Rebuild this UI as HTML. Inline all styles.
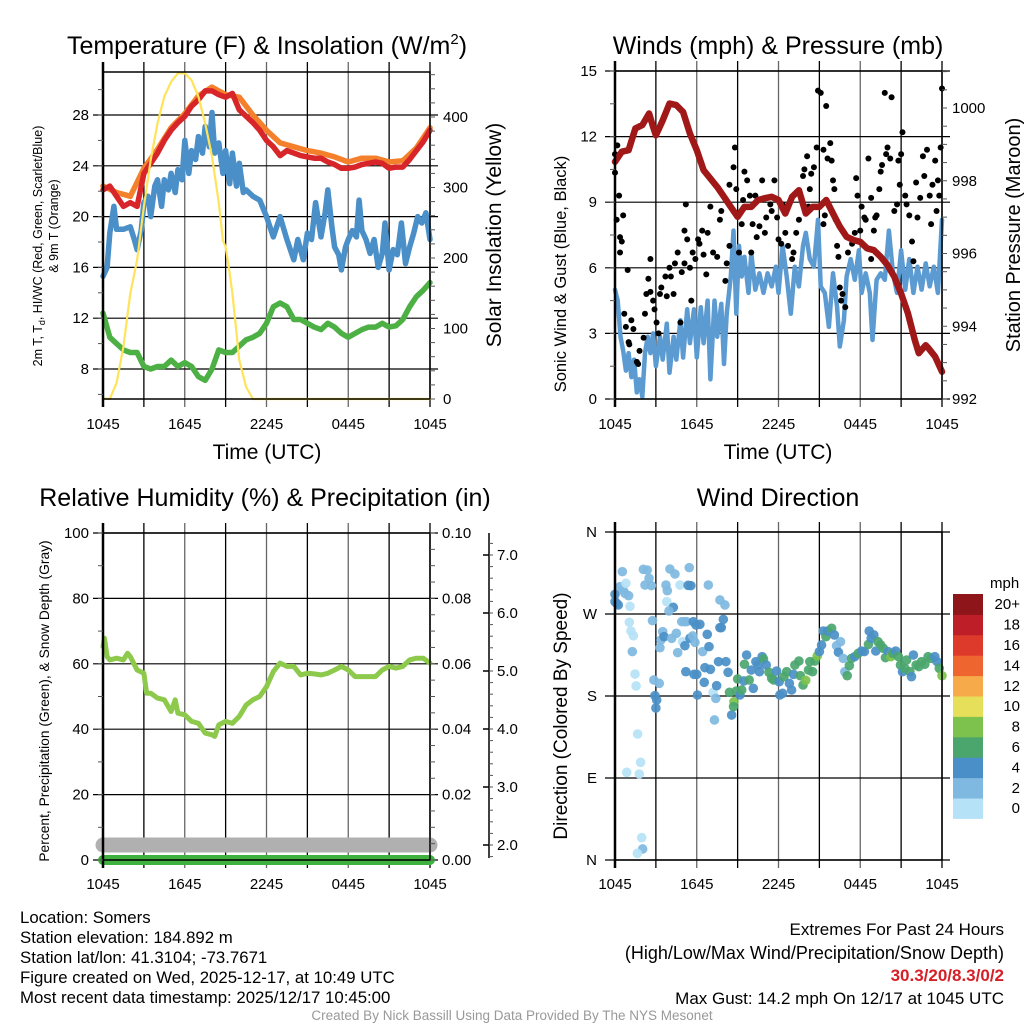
<!DOCTYPE html>
<html><head><meta charset="utf-8"><style>
html,body{margin:0;padding:0;background:#fff;}
svg{display:block;font-family:"Liberation Sans",sans-serif;}
</style></head><body>
<svg id="chart" width="1024" height="1024" viewBox="0 0 1024 1024" xmlns="http://www.w3.org/2000/svg">
<rect width="1024" height="1024" fill="#fff"/>
<g id="grids"></g>
<g id="series"></g>
<g id="frames"></g>
<g id="labels" font-size="15" fill="#000"></g>
<text x="267" y="54" font-size="25" text-anchor="middle">Temperature (F) &amp; Insolation (W/m<tspan font-size="15" dy="-10">2</tspan><tspan dy="10">)</tspan></text>
<text x="778" y="54" font-size="25" text-anchor="middle">Winds (mph) &amp; Pressure (mb)</text>
<text x="265" y="506" font-size="25" text-anchor="middle">Relative Humidity (%) &amp; Precipitation (in)</text>
<text x="778" y="506" font-size="25" text-anchor="middle">Wind Direction</text>
<text x="267" y="459" font-size="21" text-anchor="middle">Time (UTC)</text>
<text x="778" y="459" font-size="21" text-anchor="middle">Time (UTC)</text>
<text transform="translate(42,246) rotate(-90)" font-size="12.5" text-anchor="middle">2m T, T<tspan font-size="9" dy="3">d</tspan><tspan dy="-3">, HI/WC (Red, Green, Scarlet/Blue)</tspan></text>
<text transform="translate(58,226) rotate(-90)" font-size="12.5" text-anchor="middle">&amp; 9m T (Orange)</text>
<text transform="translate(501,235) rotate(-90)" font-size="21" text-anchor="middle">Solar Insolation (Yellow)</text>
<text transform="translate(566,274) rotate(-90)" font-size="16.5" text-anchor="middle">Sonic Wind &amp; Gust (Blue, Black)</text>
<text transform="translate(1020,235) rotate(-90)" font-size="20" text-anchor="middle">Station Pressure (Maroon)</text>
<text transform="translate(49,701) rotate(-90)" font-size="13.8" text-anchor="middle">Percent, Precipitation (Green), &amp; Snow Depth (Gray)</text>
<text transform="translate(567,716) rotate(-90)" font-size="19" text-anchor="middle">Direction (Colored By Speed)</text>
<g font-size="16.8">
<text x="20" y="923">Location: Somers</text>
<text x="20" y="943">Station elevation: 184.892 m</text>
<text x="20" y="963">Station lat/lon: 41.3104; -73.7671</text>
<text x="20" y="983">Figure created on Wed, 2025-12-17, at 10:49 UTC</text>
<text x="20" y="1003">Most recent data timestamp: 2025/12/17 10:45:00</text>
</g>
<g font-size="17" text-anchor="end">
<text x="1004" y="935">Extremes For Past 24 Hours</text>
<text x="1004" y="959" font-size="18">(High/Low/Max Wind/Precipitation/Snow Depth)</text>
<text x="1004" y="981" fill="#d62027" font-weight="bold">30.3/20/8.3/0/2</text>
<text x="1004" y="1004">Max Gust: 14.2 mph On 12/17 at 1045 UTC</text>
</g>
<text x="512" y="1020" font-size="13.5" fill="#999" text-anchor="middle">Created By Nick Bassill Using Data Provided By The NYS Mesonet</text>
</svg>
<script>
// ---------- data ----------
const tempHours = [0,0.5,1,1.5,2,2.5,3,3.5,4,4.5,5,5.5,6,6.5,7,7.5,8,8.5,9,9.5,10,10.5,11,11.5,12,12.5,13,13.5,14,14.5,15,15.5,16,16.5,17,17.5,18,18.5,19,19.5,20,20.5,21,21.5,22,22.5,23,23.5,24];
const tempRed = [22.1,22.4,21.6,20.8,21.1,20.8,23.4,24.2,25.0,26.0,26.8,27.4,27.9,28.7,29.2,29.9,29.9,29.6,29.4,29.7,28.4,27.9,27.4,26.8,26.0,25.5,24.8,25.2,25.0,24.8,24.7,24.6,24.6,24.3,24.1,23.8,23.8,23.9,24.1,24.2,24.3,24.2,23.8,23.9,23.9,24.5,25.2,25.9,26.8];
const orangeHours = [0,1,2,3,4,5,6,7,8,9,10,11,12,13,14,15,16,17,18,19,20,21,22,23,24];
const temp9m = [22.4,21.9,21.6,23.8,25.3,27.0,28.1,29.5,30.2,29.6,29.4,28.0,26.8,25.8,25.5,25.2,25.0,24.7,24.3,24.6,24.6,24.3,24.4,25.4,27.0];
const greenHours = [0,0.5,1,1.5,2,2.5,3,3.5,4,4.5,5,5.5,6,6.5,7,7.5,8,8.5,9,9.5,10,10.5,11,11.5,12,12.5,13,13.5,14,14.5,15,15.5,16,16.5,17,17.5,18,18.5,19,19.5,20,20.5,21,21.5,22,22.5,23,23.5,24];
const dewpoint = [12.4,10.5,10.0,9.5,9.3,9.3,8.2,8.0,8.2,8.2,8.7,8.2,8.5,8.2,7.4,7.1,8.0,9.5,9.3,9.3,9.8,10.3,10.5,10.8,11.6,12.9,13.2,12.9,11.9,11.9,11.6,11.3,11.1,11.6,11.3,10.8,10.5,10.8,11.1,11.3,11.3,11.6,11.3,11.4,11.9,12.9,13.7,14.2,14.8];
const blueHours = [0,0.3,0.5,0.8,1,1.5,2,2.3,2.5,2.8,3,3.3,3.5,3.8,4,4.3,4.5,4.8,5,5.3,5.5,5.8,6,6.3,6.5,6.8,7,7.3,7.5,7.8,8,8.2,8.5,8.8,9,9.3,9.5,9.8,10,10.3,10.5,11,11.5,12,12.5,13,13.5,14,14.3,14.7,15,15.3,15.6,16,16.3,16.5,16.8,17,17.3,17.5,17.8,18,18.3,18.6,18.8,19,19.3,19.6,19.9,20.2,20.5,20.7,21,21.3,21.6,21.9,22.2,22.5,22.8,23.1,23.4,23.7,24];
const hiwc = [15.3,16.0,18.7,20.8,19.0,19.0,19.2,18.2,17.4,18.9,21.1,21.6,20.0,22.4,22.9,20.8,22.9,22.1,23.4,21.9,23.7,22.9,26.0,23.4,25.2,24.5,26.3,25.0,27.1,25.5,28.2,25.0,25.8,23.4,25.2,22.6,25.0,22.4,24.2,21.9,22.1,21.6,21.3,20.0,18.4,20.0,18.2,16.6,18.2,16.6,18.7,18.2,21.1,18.4,20.3,22.1,19.2,17.6,17.0,15.8,17.6,18.2,18.9,18.4,21.3,18.9,18.2,17.1,18.2,16.0,17.1,19.5,15.8,17.4,17.0,19.5,16.3,17.6,18.7,20.0,19.5,20.3,18.2];
const solarHours = [0,0.5,1,1.5,2,2.5,3,3.5,4,4.5,5,5.5,6,6.5,7,7.5,8,8.5,8.8,9,9.3,9.5,10,10.5,11,24];
const solar = [1,0,23,74,150,197,273,339,391,429,450,462,462,452,429,391,344,278,225,216,178,150,55,17,0,0];

const pressHours = [0,0.5,1,1.5,2,2.5,2.8,3,3.5,4,4.5,5,5.5,6,6.5,7,7.5,8,8.5,9,9.5,10,10.5,11,11.5,12,12.5,13,13.5,14,14.5,15,15.5,16,16.5,17,17.5,18,18.5,19,19.5,20,20.5,21,21.5,22,22.3,22.5,22.8,23,23.5,24];
const pressure = [998.52,998.8,998.84,999.44,999.53,999.85,999.48,999.25,999.66,1000.12,1000.08,999.89,999.3,998.84,998.29,998.06,997.83,997.56,997.28,997.01,997.28,997.28,997.47,997.52,997.56,997.47,997.1,997.56,997.74,997.1,997.28,997.28,997.47,997.1,996.74,996.46,996.37,996.32,996.14,996.09,995.91,995.68,995.36,994.9,994.36,993.62,993.26,993.35,993.48,993.4,993.16,992.75];
const windHours = [0,0.2,0.4,0.6,0.8,1,1.2,1.4,1.6,1.8,2,2.2,2.4,2.6,2.8,3,3.3,3.5,3.8,4,4.3,4.5,4.8,5,5.3,5.5,5.8,6,6.3,6.5,6.8,7,7.3,7.5,7.8,8,8.2,8.5,8.7,8.9,9.1,9.3,9.5,9.8,10,10.3,10.6,10.9,11.2,11.5,11.8,12,12.3,12.6,12.9,13.2,13.5,13.8,14,14.3,14.6,14.9,15.1,15.4,15.7,16,16.3,16.5,16.8,17,17.3,17.6,17.9,18.1,18.4,18.7,18.9,19.2,19.5,19.8,20.1,20.4,20.7,21,21.3,21.6,21.9,22.2,22.5,22.8,23.1,23.4,23.7,24];
const windSpeed = [5.0,4.5,2.85,2.2,1.3,2.1,1.0,1.8,0.3,0.9,0.1,2.1,2.85,2.1,3.0,1.5,2.85,1.8,3.45,1.2,2.85,1.8,3.6,1.9,4.1,2.55,4.1,1.9,4.2,2.55,4.5,0.9,4.5,2.85,4.35,1.6,3.9,5.6,7.7,3.9,7.0,5.6,6.5,4.85,6.65,5.0,5.75,4.85,5.75,5.15,6.05,4.85,7.0,5.6,3.9,6.05,5.15,7.0,7.6,6.4,6.05,8.2,5.15,4.85,3.3,5.75,4.2,2.4,3.6,5.6,6.4,5.45,6.8,4.85,5.75,4.85,2.7,5.45,5.75,5.45,7.7,5.75,4.85,6.8,5.0,6.4,4.85,6.05,5.0,6.2,5.15,6.05,4.85,8.2];
const gustHours = [0,0,0.17,0.12,0.3,0.37,0.5,0.37,0.6,0.93,0.68,0.8,1.0,1.05,1.2,1.35,1.6,1.7,1.8,2.1,2.2,2.45,2.6,2.6,2.3,2.8,2.9,3.05,3.2,3.3,3.4,3.7,3.8,4.0,4.1,4.3,4.4,4.6,4.8,4.9,5.1,5.2,5.1,5.3,5.5,5.6,5.7,5.9,6.1,6.2,6.4,6.5,6.7,6.8,7.0,7.2,7.5,7.7,7.8,8.1,8.2,8.4,8.4,8.7,8.8,8.9,9.1,9.3,9.4,9.5,9.7,9.9,10.0,10.1,10.3,10.4,10.6,10.8,11.0,11.1,11.4,11.5,11.7,11.9,12.0,12.2,12.3,12.5,12.7,13.0,13.1,13.3,13.5,13.7,13.8,13.9,14.1,14.2,14.3,14.4,14.6,14.8,14.9,15.1,15.3,15.3,15.4,15.5,15.6,15.8,15.9,16.0,16.1,16.2,16.3,16.4,16.5,16.6,16.7,16.9,17.1,17.4,17.6,17.7,17.8,18.0,18.1,18.3,18.4,18.6,18.8,18.8,19.0,19.1,19.2,19.4,19.5,19.6,19.8,19.9,20.0,20.2,20.3,20.5,20.7,20.8,20.9,21.0,21.1,21.3,21.4,21.6,21.8,21.9,22.1,22.2,22.4,22.6,22.7,22.9,23.1,23.2,23.3,23.5,23.6,23.7,23.8,23.9,24];
const gustSpeed = [11.2,10.35,11.6,8.2,9.3,7.4,7.2,6.7,8.4,5.9,3.9,3.3,2.6,2.5,3.6,3.2,1.7,1.6,2.2,2.8,3.9,5.5,6.4,4.9,4.8,4.5,4.1,3.5,3.0,4.8,5.1,5.6,4.7,6.0,5.6,4.8,6.2,6.7,3.5,5.8,6.2,8.9,7.7,7.3,6.0,4.5,6.7,6.4,7.3,7.1,7.7,6.6,5.7,7.6,8.8,6.7,6.5,8.2,8.6,5.4,6.2,7.0,9.8,10.6,11.5,9.6,6.7,8.0,9.1,10.4,10.0,9.3,6.7,8.0,9.3,7.4,7.9,10.0,7.6,8.3,8.9,8.6,10.0,8.3,7.3,7.1,8.9,7.6,7.0,6.4,6.7,7.6,8.2,9.1,10.2,10.5,11.1,8.8,9.6,10.3,10.6,11.5,14.1,14.0,8.0,11.4,8.4,13.4,11.0,11.7,10.9,10.0,9.6,8.2,7.0,6.5,5.1,4.5,4.8,4.2,6.7,7.1,7.6,10.1,9.3,7.7,8.8,8.3,8.2,11.0,9.2,6.4,7.7,8.3,8.4,9.6,10.4,10.7,14.0,11.2,11.5,11.0,13.8,8.6,8.9,10.9,9.8,11.2,12.2,9.3,8.9,8.4,7.2,6.3,9.9,8.3,9.2,11.1,10.2,11.4,9.3,8.0,9.8,10.9,8.6,10.0,9.3,11.5,14.2];

const rhHours = [0,0.1,0.3,0.5,1,1.5,1.8,2,2.5,3,3.2,3.5,4,4.5,5,5.3,5.5,6,6.5,7,7.5,8,8.2,8.5,9,9.5,10,10.5,11,11.5,12,12.5,13,13.5,14,14.5,15,15.5,16,16.5,17,17.5,18,18.5,19,19.5,20,20.5,21,21.5,22,22.5,23,23.5,24];
const rh = [65.3,67.8,62.2,61.2,61.7,61.2,63.2,62.2,58.1,57.1,51.0,51.0,49.5,49.0,45.4,49.0,44.9,44.4,42.4,41.8,38.8,38.3,37.8,41.3,42.4,41.8,43.9,47.4,49.0,50.0,53.0,57.6,60.2,59.2,59.2,56.6,57.1,56.9,56.6,57.1,58.1,59.2,58.1,56.1,56.1,56.1,56.1,58.1,59.2,58.7,59.2,61.2,61.7,61.7,60.2];
const precipHours = [0,24];
const precip = [0,0];
const snowHours = [0,24];
const snowDepth = [2.0,2.0];

const dirHours = [0,0,0.24,0.12,0.54,0.37,0.6,0.73,1.0,0.8,1.1,1.05,1.17,1.35,1.27,1.47,1.55,1.66,1.88,1.78,0.86,1.96,2.03,1.64,2.08,2.37,2.2,2.5,2.67,2.75,2.85,3.25,2.93,3.06,3.0,3.3,3.5,3.37,3.6,3.74,3.84,3.8,4.03,4.4,4.28,3.96,4.16,4.5,4.6,4.77,4.9,5.26,5.1,5.45,5.37,5.57,4.96,5.13,5.2,5.5,5.75,5.94,5.7,5.87,6.0,5.8,6.05,6.23,6.43,6.6,6.77,6.9,7.0,6.55,6.85,7.2,7.4,7.3,7.46,7.6,7.7,8.07,7.7,7.95,7.8,8.14,8.3,8.4,8.56,8.73,8.7,8.9,9.0,9.17,9.3,9.46,9.5,9.66,9.85,10.0,10.15,10.34,10.5,10.6,10.8,10.9,11.1,11.3,11.5,11.65,11.86,12.05,12.1,12.3,12.4,12.6,12.8,12.96,13.1,13.2,13.5,13.6,13.8,14.0,14.2,14.3,14.5,14.67,14.84,15.0,15.16,15.28,15.48,15.6,15.9,16.1,16.26,16.4,16.55,16.75,16.87,17.04,17.2,17.36,17.6,17.85,18.1,18.3,18.6,18.66,18.8,19.0,19.14,19.3,19.5,19.7,19.85,20.05,20.25,20.4,20.6,20.8,20.95,21.1,21.27,21.4,21.64,21.76,21.9,22.1,22.3,22.5,22.74,22.98,23.2,23.47,23.64,23.8,24.0];
const dirDegrees = [291.6,283.5,279.9,281.7,316.5,300,296.3,292.7,290.1,303.7,278.4,260.9,251.3,246.2,228.7,204.1,191,138.3,107.2,94.4,96.2,24.5,12.1,7.3,319,318.3,301.8,309.2,301.1,262.7,197.6,193.9,180.4,175.6,166.8,233,250.6,241.5,245.1,301.8,295.6,283.5,319.4,313.9,277.3,273.3,243.3,248.8,227.6,301.8,261.6,261.6,261.6,320.9,301.5,301.1,239.6,235.2,206.7,243.3,261.6,258,245.9,238.9,203.8,203.8,181.1,258.7,228.7,211.1,247.7,234.2,209.3,195,301.8,184,177.4,153.7,191.3,217.7,285.4,279.9,255,264.1,255,217.7,206,184,159.1,173.8,168.3,185.5,198.7,181.1,186.6,196.5,214.8,225,197.6,208.5,188.4,217.7,214,206.7,223.2,220.6,214,206,199.4,197.6,207.4,195.7,181.1,182.9,201.2,206.7,193.9,186.6,203.8,214,218.4,202.3,192.1,197.2,208.5,217.7,206.7,218.4,223.9,228.7,236,251.3,245.1,251.3,254.3,247,235.2,228,239.6,221.3,206.7,202.3,213.3,221.3,223.2,226.8,229.4,228.7,236.7,251.3,243.3,247,229.4,239.6,236,232.3,222.1,228.7,223.2,226.8,229.4,223.2,214,206.7,210.4,219.5,206.7,201.2,225,214,212.2,217.7,214.8,223.2,221.3,223.2,217.7,210.4,202.3];
const dirSpeed = [5,5,5,5,3,3,3,3,3,1,1,1,1,1,3,1,1,1,1,1,1,1,3,1,3,3,3,3,3,3,3,3,5,5,5,3,3,3,5,3,3,1,3,3,5,3,3,3,3,1,3,3,3,3,5,5,1,5,5,5,5,5,3,3,5,5,5,5,3,5,5,5,5,5,3,1,3,3,5,5,3,3,5,5,5,5,5,7,5,9,7,7,7,5,7,5,7,5,7,5,5,5,5,5,5,7,5,7,7,7,5,5,5,5,7,7,5,5,5,7,7,7,7,9,7,7,7,7,9,5,5,5,7,5,7,5,3,5,3,3,3,7,7,7,5,7,5,5,7,5,5,5,5,7,7,7,7,5,9,7,5,7,7,5,7,7,7,5,5,7,7,7,7,7,7,5,5,7,9];

const tempTicks = [8,12,16,20,24,28];
const solarTicks = [0,100,200,300,400];
const windTicks = [0,3,6,9,12,15];
const pressTicks = [992,994,996,998,1000];
const rhTicks = [0,20,40,60,80,100];
const precipTicks = ["0.00","0.02","0.04","0.06","0.08","0.10"];
const snowTicks = ["2.0","3.0","4.0","5.0","6.0","7.0"];
const dirTicks = ["N","E","S","W","N"];
const timeTicks = ["1045","1645","2245","0445","1045"];
const cbLabels = ["0","2","4","6","8","10","12","14","16","18","20+"];
const cbColors = ["#b5e2f6","#7fb8e1","#4a8fc7","#4aa66c","#7cc24c","#e5df5a","#f6aa4a","#ee6530","#de3a2c","#be1e27","#8e1519"];

// ---------- helpers ----------
const NS="http://www.w3.org/2000/svg";
function mk(parent,tag,attrs,txt){const e=document.createElementNS(NS,tag);for(const k in attrs)e.setAttribute(k,attrs[k]);if(txt!==undefined)e.textContent=txt;document.getElementById(parent).appendChild(e);return e;}
function linScale(d0,d1,r0,r1){return v=>r0+(v-d0)/(d1-d0)*(r1-r0);}
const P1={x0:103,x1:430,y0:72,y1:399}, P2={x0:615,x1:942,y0:71,y1:399};
const P3={x0:103,x1:430,y0:533,y1:860}, P4={x0:615,x1:942,y0:532,y1:860};
const x1=linScale(0,24,P1.x0,P1.x1), x2=linScale(0,24,P2.x0,P2.x1);
const yT=linScale(8,28,369,115), yS=linScale(0,400,399,117);
const yW=linScale(0,15,399,71), yP=linScale(992,1000,399,108);
const yR=linScale(0,100,860,533), yPr=linScale(0,0.1,860,533), ySn=linScale(2,7,845,555);
const yD=linScale(0,360,860,532);
function pathD(xs,ys,fx,fy){return xs.map((h,i)=>(i?"L":"M")+fx(h).toFixed(1)+","+fy(ys[i]).toFixed(1)).join("");}

// ---------- grids ----------
function vgrid(P,fx){for(let h=0;h<=24;h+=3){const l=mk("grids","line",{x1:fx(h),x2:fx(h),y1:P.y0-10,y2:P.y1+8,stroke:(h%6===0&&h>0&&h<24)?"#666":"#000","stroke-width":1.3});

}}
function hgrid(P,ys){ys.forEach(y=>{const l=mk("grids","line",{x1:P.x0-10,x2:P.x1+8,y1:y,y2:y,stroke:"#000","stroke-width":1.2});

});}
vgrid(P1,x1);vgrid(P2,x2);vgrid(P3,x1);vgrid(P4,x2);
hgrid(P1,tempTicks.map(yT));
hgrid(P2,windTicks.map(yW));
hgrid(P3,rhTicks.map(yR));
hgrid(P4,[0,90,180,270,360].map(yD));

// ---------- series ----------
function line(xs,ys,fx,fy,color,w,name){const p=mk("series","path",{d:pathD(xs,ys,fx,fy),fill:"none",stroke:color,"stroke-width":w,"stroke-linejoin":"round","stroke-linecap":"round"});

return p;}
line(orangeHours,temp9m,x1,yT,"#f4802c",5.5,"temp-9m-line");
line(tempHours,tempRed,x1,yT,"#d7252a",5.5,"temp-2m-line");
line(blueHours,hiwc,x1,yT,"#4a8fc7",5.5,"hiwc-line");
line(greenHours,dewpoint,x1,yT,"#4db045",5.5,"dewpoint-line");
line(solarHours,solar,x1,yS,"#ffe35a",2.2,"insolation-line");

line(windHours,windSpeed,x2,yW,"#5b9bd2",4.5,"sonic-wind-line");
gustHours.forEach((h,i)=>{const c=mk("series","circle",{cx:x2(h),cy:yW(gustSpeed[i]),r:3,fill:"#000"});

});
line(pressHours,pressure,x2,yP,"#a01818",6.5,"pressure-line");

line(snowHours,snowDepth,x1,ySn,"#b0b0b0",15,"snow-depth-line");
line(precipHours,precip,x1,yPr,"#3fb13f",10,"precip-line");
line(rhHours,rh,x1,yR,"#8dc94b",5,"rh-line");

dirHours.forEach((h,i)=>{const ci=Math.min(10,Math.floor(dirSpeed[i]/2));const c=mk("series","circle",{cx:x2(h),cy:yD(dirDegrees[i]),r:4.8,fill:cbColors[ci],"fill-opacity":0.92});

});

// ---------- frames & axes ----------
[P1,P2,P3,P4].forEach(P=>{const r=mk("frames","rect",{x:P.x0,y:P.y0,width:P.x1-P.x0,height:P.y1-P.y0,fill:"none",stroke:"#000","stroke-width":1.5});

});
[P1.x0,P2.x0,P3.x0,P4.x0].forEach((x,i)=>{const P=[P1,P2,P3,P4][i];const l=mk("frames","line",{x1:x,x2:x,y1:P.y0-10,y2:P.y1+8,stroke:"#000","stroke-width":2.5});

});
const sa=mk("frames","line",{x1:489,x2:489,y1:533,y2:858,stroke:"#000","stroke-width":1.5});


function tick(x1_,y1_,x2_,y2_){const t=mk("frames","line",{x1:x1_,y1:y1_,x2:x2_,y2:y2_,stroke:"#555","stroke-width":1});

}
for(let v=6;v<=30;v+=2){tick(P1.x0-5,yT(v),P1.x0,yT(v));}
for(let v=0;v<=460;v+=20){tick(P1.x1,yS(v),P1.x1+5,yS(v));}
for(let v=0;v<=15;v+=1.5){tick(P2.x0-5,yW(v),P2.x0,yW(v));}
for(let v=992;v<=1001;v+=0.5){tick(P2.x1,yP(v),P2.x1+5,yP(v));}
for(let v=0;v<=100;v+=10){tick(P3.x0-5,yR(v),P3.x0,yR(v));}
for(let v=0;v<=0.1001;v+=0.005){tick(P3.x1,yPr(v),P3.x1+5,yPr(v));}
for(let v=1.8;v<=7.4;v+=0.2){tick(489,ySn(v),493,ySn(v));}
[2,3,4,5,6,7].forEach(v=>{const t=mk("frames","line",{x1:483,x2:489,y1:ySn(v),y2:ySn(v),stroke:"#000","stroke-width":1.5});

});

// ---------- tick labels ----------
function lbl(x,y,s,anchor,name){const t=mk("labels","text",{x:x,y:y,"text-anchor":anchor},s);

}
tempTicks.forEach(v=>lbl(P1.x0-14,yT(v)+5,v,"end","temp-tick-label"));
solarTicks.forEach(v=>lbl(P1.x1+13,yS(v)+5,v,"start","solar-tick-label"));
windTicks.forEach(v=>lbl(P2.x0-18,yW(v)+5,v,"end","wind-tick-label"));
pressTicks.forEach(v=>lbl(P2.x1+10,yP(v)+5,v,"start","pressure-tick-label"));
rhTicks.forEach(v=>lbl(P3.x0-14,yR(v)+5,v,"end","rh-tick-label"));
precipTicks.forEach(v=>lbl(P3.x1+12,yPr(parseFloat(v))+5,v,"start","precip-tick-label"));
snowTicks.forEach(v=>lbl(497,ySn(parseFloat(v))+5,v,"start","snow-tick-label"));
dirTicks.forEach((v,i)=>lbl(P4.x0-18,yD(i*90)+5,v,"end","direction-tick-label"));
timeTicks.forEach((v,i)=>{lbl(x1(i*6),429,v,"middle","time-tick-label");lbl(x2(i*6),429,v,"middle","time-tick-label");lbl(x1(i*6),889,v,"middle","time-tick-label");lbl(x2(i*6),889,v,"middle","time-tick-label");});

// ---------- colorbar ----------
const cbTop=594, cbH=20.4;
cbLabels.forEach((s,i)=>{const k=10-i;const y=cbTop+k*cbH;
const r=mk("labels","rect",{x:953,y:y,width:30,height:cbH+0.5,fill:cbColors[i]});


lbl(1020,y+cbH/2+5,s,"end","colorbar-label");});
lbl(990,588,"mph","start","colorbar-title");
</script>
</body></html>
